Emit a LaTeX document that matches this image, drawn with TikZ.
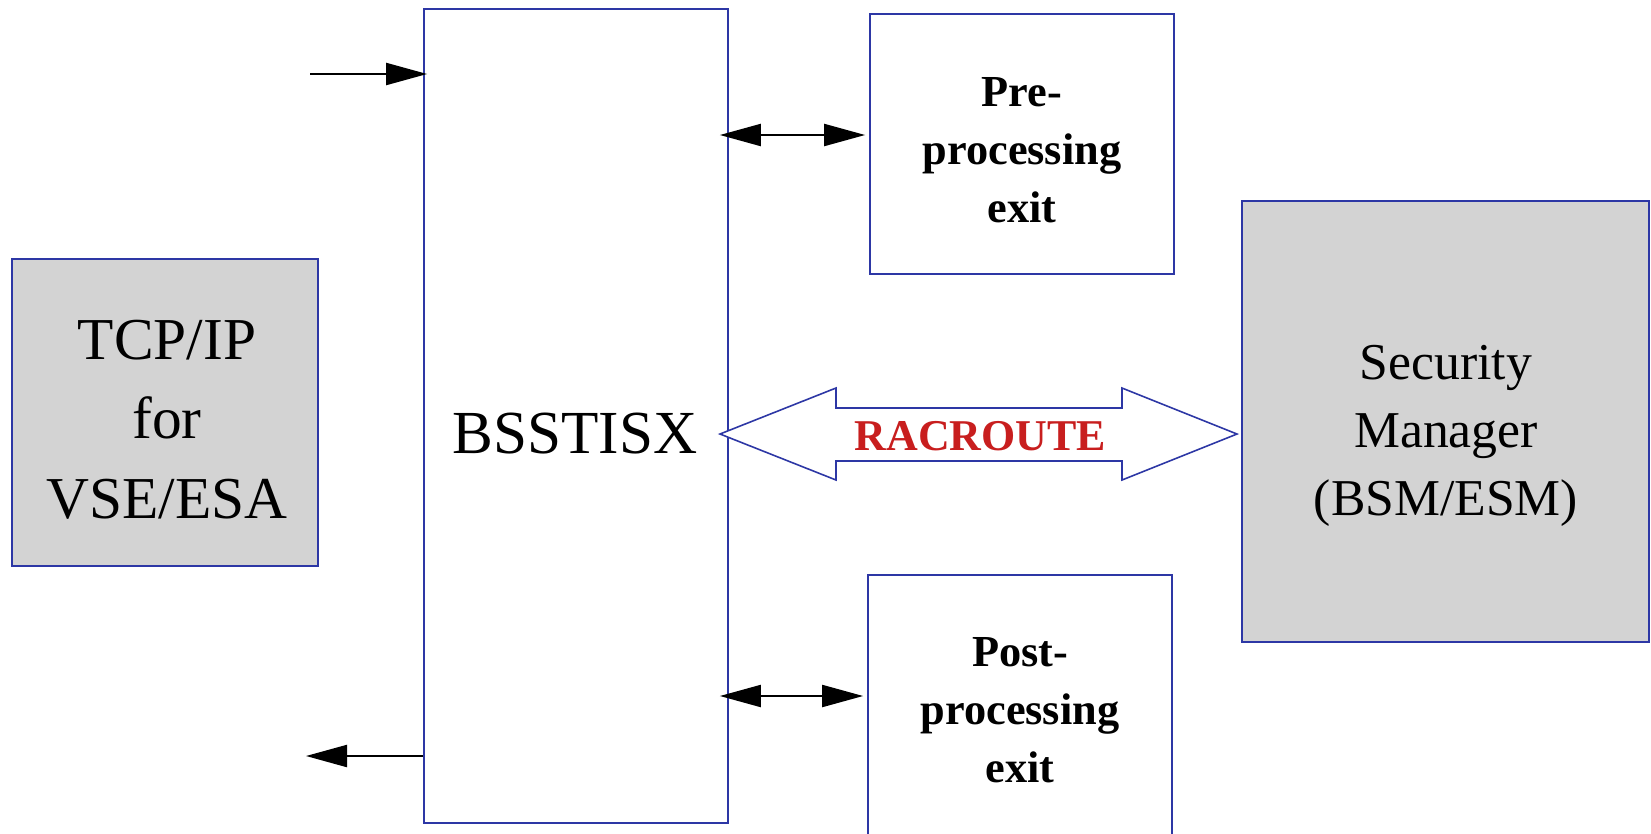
\documentclass[tikz,border=0pt]{standalone}
\usepackage{fontspec}
\setmainfont{Liberation Serif}
\usetikzlibrary{arrows.meta}
\definecolor{boxblue}{RGB}{45,55,165}
\definecolor{boxgray}{RGB}{211,211,211}
\definecolor{racred}{RGB}{200,30,30}
\tikzset{
  box/.style={draw=boxblue, line width=0.45pt, inner sep=0pt, rectangle},
  graybox/.style={box, fill=boxgray},
  conn/.style={black, line width=0.6pt, -{Triangle[length=0.41cm,width=0.22cm]}},
  dconn/.style={black, line width=0.6pt, {Triangle[length=0.41cm,width=0.22cm]}-{Triangle[length=0.41cm,width=0.22cm]}},
  bigtxt/.style={anchor=base, inner sep=0pt, align=center, font=\fontsize{16.9}{22.5}\selectfont},
  smtxt/.style={anchor=base, inner sep=0pt, align=center, font=\fontsize{14.7}{19.2}\selectfont},
  exittxt/.style={anchor=base, inner sep=0pt, align=center, font=\fontsize{12.6}{16.4}\selectfont\bfseries},
}
\begin{document}
\begin{tikzpicture}[x=0.01cm,y=-0.01cm]
\clip (0,0) rectangle (1651,833);
\fill[white] (0,0) rectangle (1651,833);
% boxes
\node[graybox, minimum width=3.06cm, minimum height=3.07cm] (tcp) at (165,412.5) {};
\node[box, minimum width=3.04cm, minimum height=8.14cm] (main) at (576,416) {};
\node[box, minimum width=3.04cm, minimum height=2.60cm] (pre) at (1022,144) {};
\node[box, minimum width=3.04cm, minimum height=2.85cm] (post) at (1020,717.5) {};
\node[graybox, minimum width=4.07cm, minimum height=4.41cm] (sm) at (1445.5,421.5) {};
% texts (base = baseline of the last line)
\node[bigtxt] (tcptxt) at (167,518) {TCP/IP\\for\\VSE/ESA};
\node[anchor=base, inner sep=0pt, font=\fontsize{17.4}{22}\selectfont] (maintxt) at (575,453) {BSSTISX};
\node[smtxt] (smtxt) at (1446,515) {Security\\Manager\\(BSM/ESM)};
\node[exittxt] (pretxt) at (1022,222) {Pre-\\processing\\exit};
\node[exittxt] (posttxt) at (1020,782) {Post-\\processing\\exit};
% big double arrow
\draw[boxblue, line width=0.45pt, fill=white]
  (720,434) -- (836,388) -- (836,408) -- (1122,408) -- (1122,388) -- (1237,434)
  -- (1122,480) -- (1122,461) -- (836,461) -- (836,480) -- cycle;
\node[anchor=base, inner sep=0pt, text=racred, font=\fontsize{12.5}{15}\selectfont\bfseries] (rac) at (980.5,450) {RACROUTE};
% connectors
\coordinate (in1) at (310,74);
\coordinate (out1) at (306,756);
\draw[conn, shorten >=-0.04cm] (in1) -- (main.west |- in1);
\draw[conn] (main.west |- out1) -- (out1);
\draw[dconn, shorten <=-0.09cm, shorten >=0.04cm] (main.east |- 0,135) -- (pre.west |- 0,135);
\draw[dconn, shorten <=-0.09cm, shorten >=0.04cm] (main.east |- 0,696) -- (post.west |- 0,696);
\end{tikzpicture}
\end{document}
